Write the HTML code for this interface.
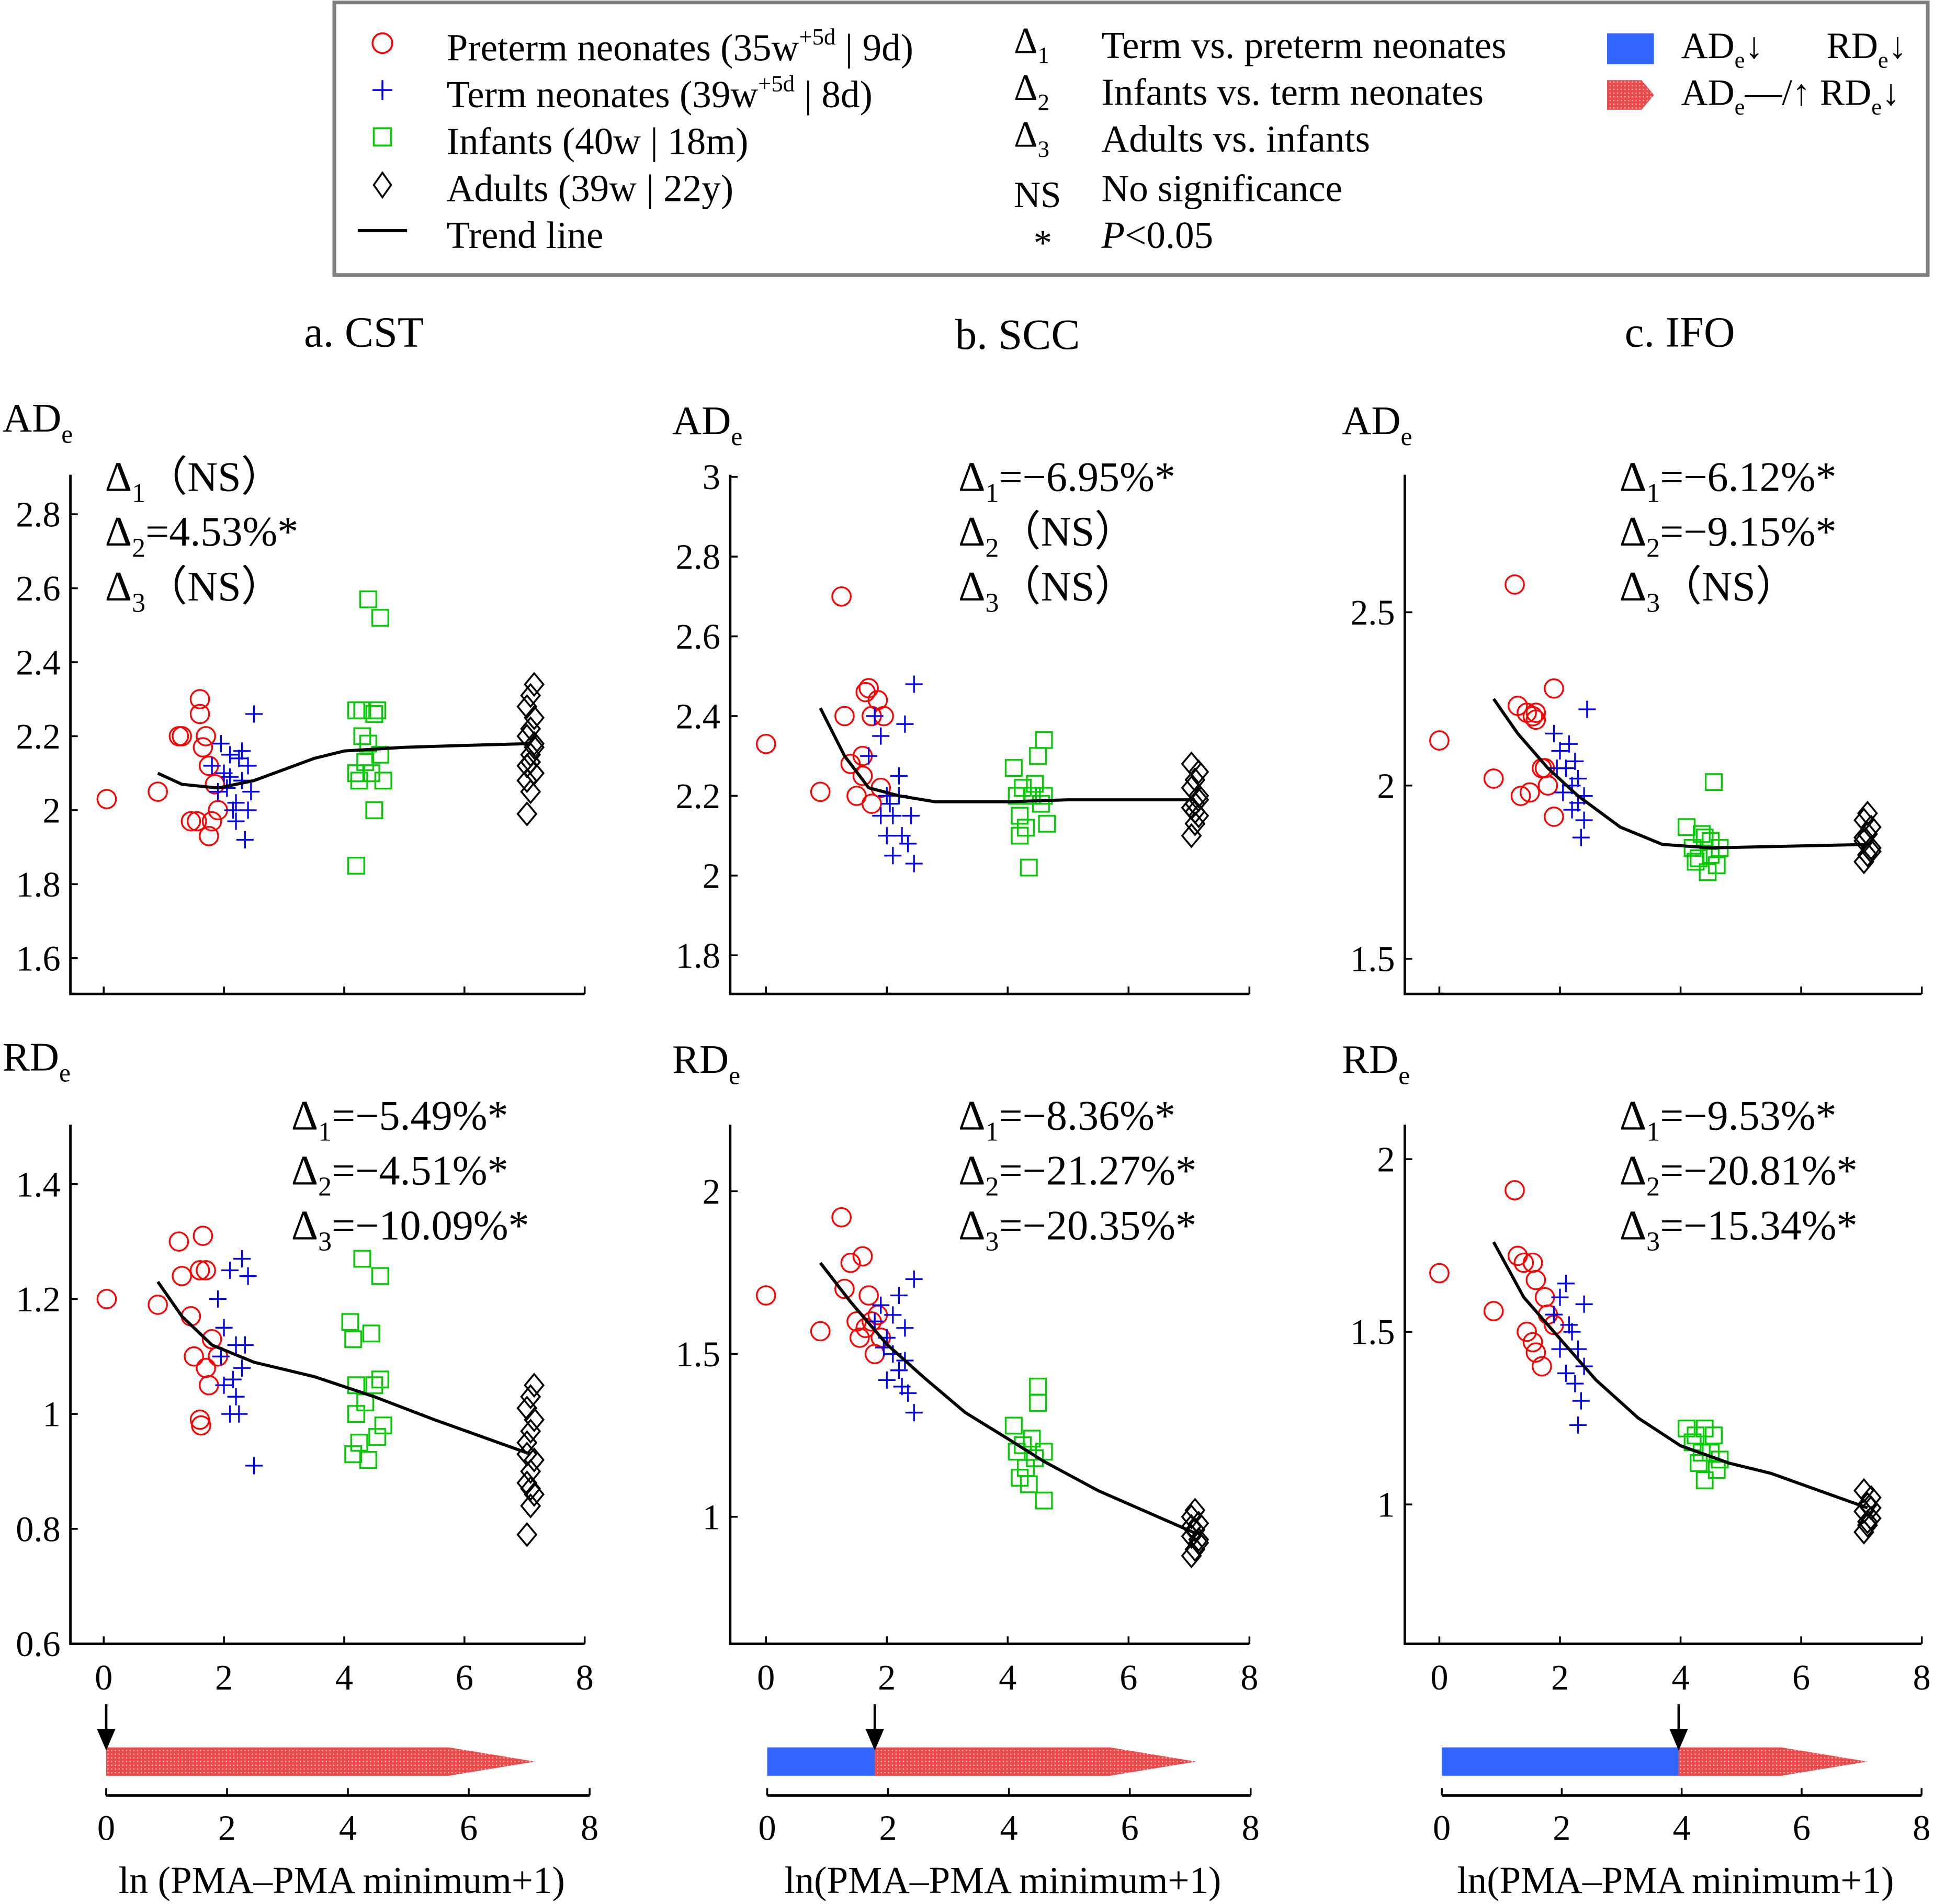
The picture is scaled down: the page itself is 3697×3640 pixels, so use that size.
<!DOCTYPE html>
<html><head><meta charset="utf-8"><style>
html,body{margin:0;padding:0;background:#fff}
svg{display:block}
text{font-family:"Liberation Serif",serif;fill:#000}
</style></head><body>
<svg id="fig" width="3697" height="3640" viewBox="0 0 1568 1544" xmlns="http://www.w3.org/2000/svg">
<defs>
<pattern id="hatch" width="3" height="3" patternUnits="userSpaceOnUse">
<rect width="3" height="3" fill="#f04848"/><rect x="0" y="0" width="1" height="1" fill="#ffd0d0"/>
</pattern>
</defs>
<g id="legend">
<rect x="271" y="2" width="1292" height="221" fill="#fff" stroke="#7f7f7f" stroke-width="3"/>
<circle cx="310" cy="35" r="8" fill="none" stroke="#f00" stroke-width="1.5"/>
<text x="362" y="49" font-size="31">Preterm neonates (35w<tspan font-size="19" dy="-13">+5d</tspan><tspan dy="13"> | 9d)</tspan></text>
<path d="M302 73h16M310 65v16" stroke="#00f" stroke-width="1.5"/>
<text x="362" y="87" font-size="31">Term neonates (39w<tspan font-size="19" dy="-13">+5d</tspan><tspan dy="13"> | 8d)</tspan></text>
<rect x="303" y="104" width="14" height="14" fill="none" stroke="#0c0" stroke-width="1.5"/>
<text x="362" y="125" font-size="31">Infants (40w | 18m)</text>
<path d="M310 140l7 10l-7 10l-7-10z" fill="none" stroke="#000" stroke-width="1.5"/>
<text x="362" y="163" font-size="31">Adults (39w | 22y)</text>
<path d="M290 187h40" stroke="#000" stroke-width="2.5"/>
<text x="362" y="201" font-size="31">Trend line</text>
<text x="822" y="43" font-size="30">Δ<tspan font-size="19" dy="8">1</tspan></text>
<text x="893" y="47" font-size="31">Term vs. preterm neonates</text>
<text x="822" y="81" font-size="30">Δ<tspan font-size="19" dy="8">2</tspan></text>
<text x="893" y="85" font-size="31">Infants vs. term neonates</text>
<text x="822" y="119" font-size="30">Δ<tspan font-size="19" dy="8">3</tspan></text>
<text x="893" y="123" font-size="31">Adults vs. infants</text>
<text x="822" y="168" font-size="30">NS</text>
<text x="893" y="163" font-size="31">No significance</text>
<text x="838" y="207" font-size="30">*</text>
<text x="893" y="201" font-size="31"><tspan font-style="italic">P</tspan>&lt;0.05</text>
<rect x="1303" y="27" width="38" height="25" fill="#3366ff"/>
<text x="1363" y="47" font-size="30">AD<tspan font-size="19" dy="8">e</tspan><tspan dy="-8">↓</tspan></text>
<text x="1481" y="47" font-size="30">RD<tspan font-size="19" dy="8">e</tspan><tspan dy="-8">↓</tspan></text>
<path d="M1303 65h28l10 12l-10 12h-28z" fill="url(#hatch)"/>
<text x="1363" y="85" font-size="30">AD<tspan font-size="19" dy="8">e</tspan><tspan dy="-8">—/↑ RD</tspan><tspan font-size="19" dy="8">e</tspan><tspan dy="-8">↓</tspan></text>
</g>
<text x="295" y="281" font-size="35" text-anchor="middle">a. CST</text>
<text x="825" y="283" font-size="35" text-anchor="middle">b. SCC</text>
<text x="1362" y="281" font-size="35" text-anchor="middle">c. IFO</text>
<g id="plots"></g>
</svg>
<script>
// ---- data ----
const aPre=[[0.05,2.03],[0.9,2.05],[1.25,2.2],[1.3,2.2],[1.6,2.3],[1.6,2.26],[1.7,2.2],[1.65,2.17],[1.45,1.97],[1.55,1.97],[1.75,1.93],[1.8,1.97],[1.9,2.0],[1.75,2.12],[1.85,2.07]];
const aTerm=[[1.8,2.12],[1.9,2.05],[2.0,2.1],[2.1,2.15],[2.2,2.02],[2.3,2.08],[2.4,2.12],[2.5,2.26],[2.2,1.97],[2.35,1.92],[1.95,2.18],[2.15,2.0],[2.45,2.05],[2.05,2.06],[2.25,2.14],[2.4,2.0],[2.1,2.09],[2.3,2.16]];
const aInf=[[4.2,2.27],[4.4,2.57],[4.6,2.52],[4.3,2.27],[4.55,2.27],[4.2,2.1],[4.3,2.2],[4.45,2.1],[4.6,2.15],[4.5,2.0],[4.2,1.85],[4.25,2.08],[4.35,2.13],[4.65,2.08],[4.5,2.26],[4.4,2.18]];
const aAd=[1.99,2.05,2.1,2.12,2.15,2.17,2.2,2.22,2.25,2.28,2.31,2.34,2.08,2.13,2.18];
const aTrend=[[0.9,2.1],[1.3,2.07],[1.9,2.06],[2.5,2.08],[3,2.11],[3.5,2.14],[4,2.16],[4.5,2.165],[5,2.17],[6,2.175],[7.1,2.18]];

const bPre=[[0,2.33],[0.9,2.21],[1.25,2.7],[1.3,2.4],[1.4,2.28],[1.5,2.2],[1.6,2.3],[1.65,2.46],[1.7,2.47],[1.75,2.4],[1.85,2.44],[1.95,2.4],[1.75,2.18],[1.9,2.22],[1.6,2.25]];
const bTerm=[[1.7,2.3],[1.8,2.4],[1.9,2.35],[2.0,2.2],[2.1,2.15],[2.2,2.25],[2.3,2.38],[2.45,2.48],[2.0,2.1],[2.1,2.05],[2.25,2.1],[2.35,2.08],[2.45,2.03],[1.9,2.15],[2.2,2.2],[2.4,2.15],[2.05,2.18]];
const bInf=[[4.1,2.27],[4.15,2.2],[4.2,2.15],[4.25,2.22],[4.3,2.12],[4.35,2.02],[4.4,2.2],[4.5,2.3],[4.6,2.34],[4.55,2.18],[4.65,2.13],[4.45,2.23],[4.2,2.1],[4.6,2.2]];
const bAd=[2.1,2.13,2.15,2.17,2.18,2.2,2.22,2.24,2.26,2.28,2.16,2.19];
const bTrend=[[0.9,2.42],[1.3,2.3],[1.7,2.22],[2.2,2.2],[2.8,2.185],[4,2.185],[5,2.19],[7.1,2.19]];

const cPre=[[0,2.13],[0.9,2.02],[1.25,2.58],[1.3,2.23],[1.45,2.21],[1.55,2.2],[1.6,2.21],[1.9,2.28],[1.35,1.97],[1.5,1.98],[1.7,2.05],[1.75,2.05],[1.9,1.91],[1.8,2.0],[1.6,2.19]];
const cTerm=[[1.9,2.15],[2.0,2.1],[2.1,2.05],[2.2,2.0],[2.3,1.95],[2.4,1.9],[2.45,2.22],[2.25,2.07],[2.35,1.85],[2.05,1.98],[2.15,2.12],[2.3,2.02],[2.4,1.97],[1.95,2.05],[2.2,1.93]];
const cInf=[[4.1,1.88],[4.2,1.82],[4.3,1.79],[4.4,1.85],[4.5,1.8],[4.6,1.77],[4.55,2.01],[4.45,1.75],[4.65,1.82],[4.25,1.78],[4.35,1.86],[4.5,1.84]];
const cAd=[1.78,1.8,1.82,1.84,1.86,1.88,1.9,1.92,1.81,1.85];
const cTrend=[[0.9,2.25],[1.3,2.15],[1.8,2.05],[2.3,1.97],[3,1.88],[3.7,1.83],[4.5,1.82],[7.1,1.83]];

const dPre=[[0.05,1.2],[0.9,1.19],[1.25,1.3],[1.3,1.24],[1.45,1.17],[1.5,1.1],[1.6,1.25],[1.65,1.31],[1.7,1.25],[1.6,0.99],[1.62,0.98],[1.75,1.05],[1.8,1.13],[1.7,1.08],[1.9,1.1]];
const dTerm=[[1.9,1.2],[2.0,1.15],[2.1,1.25],[2.2,1.12],[2.3,1.27],[2.4,1.24],[2.0,1.05],[2.1,1.0],[2.2,1.03],[2.3,1.08],[2.5,0.91],[1.95,1.1],[2.15,1.06],[2.35,1.12],[2.25,1.0]];
const dInf=[[4.1,1.16],[4.15,1.13],[4.2,1.05],[4.3,1.27],[4.45,1.14],[4.5,1.05],[4.6,1.24],[4.65,0.98],[4.15,0.93],[4.25,0.95],[4.4,0.92],[4.55,0.96],[4.35,1.02],[4.6,1.06],[4.2,1.0]];
const dAd=[0.79,0.84,0.86,0.88,0.9,0.92,0.95,0.97,0.99,1.01,1.03,1.05,0.93,0.87];
const dTrend=[[0.9,1.23],[1.3,1.17],[1.8,1.12],[2.5,1.09],[3.5,1.065],[4.5,1.03],[5.5,0.99],[7.1,0.93]];

const ePre=[[0,1.68],[0.9,1.57],[1.25,1.92],[1.3,1.7],[1.4,1.78],[1.6,1.8],[1.5,1.6],[1.55,1.55],[1.7,1.68],[1.75,1.6],[1.8,1.5],[1.85,1.62],[1.65,1.58],[1.9,1.55]];
const eTerm=[[1.8,1.6],[1.9,1.65],[2.0,1.55],[2.1,1.5],[2.2,1.45],[2.3,1.58],[2.45,1.73],[2.2,1.68],[2.35,1.38],[2.45,1.32],[2.0,1.42],[2.1,1.62],[2.3,1.48],[1.95,1.52],[2.25,1.4]];
const eInf=[[4.1,1.28],[4.15,1.2],[4.2,1.12],[4.3,1.15],[4.4,1.24],[4.5,1.4],[4.5,1.35],[4.6,1.2],[4.6,1.05],[4.35,1.1],[4.45,1.18],[4.25,1.22]];
const eAd=[0.88,0.9,0.92,0.94,0.96,0.98,1.0,1.02,0.93,0.97];
const eTrend=[[0.9,1.78],[1.4,1.66],[2,1.53],[2.6,1.43],[3.3,1.32],[4,1.24],[4.6,1.17],[5.5,1.08],[7.1,0.95]];

const fPre=[[0,1.67],[0.9,1.56],[1.25,1.91],[1.3,1.72],[1.4,1.7],[1.55,1.7],[1.6,1.65],[1.45,1.5],[1.55,1.47],[1.6,1.44],[1.7,1.4],[1.8,1.55],[1.75,1.6],[1.9,1.52]];
const fTerm=[[1.9,1.55],[2.0,1.6],[2.1,1.64],[2.2,1.5],[2.3,1.45],[2.4,1.58],[2.35,1.3],[2.3,1.23],[2.1,1.38],[2.0,1.45],[2.25,1.35],[2.4,1.4],[2.15,1.52]];
const fInf=[[4.1,1.22],[4.2,1.18],[4.3,1.12],[4.4,1.22],[4.5,1.15],[4.6,1.1],[4.4,1.07],[4.25,1.2],[4.55,1.2],[4.35,1.15],[4.65,1.13]];
const fAd=[0.92,0.94,0.96,0.98,1.0,1.02,1.04,0.95,0.99];
const fTrend=[[0.9,1.76],[1.4,1.6],[2,1.48],[2.6,1.36],[3.3,1.25],[4,1.17],[4.8,1.12],[5.5,1.09],[7.1,0.99]];

const aTicks=[1.6,1.8,2,2.2,2.4,2.6,2.8];
const bTicks=[1.8,2,2.2,2.4,2.6,2.8,3];
const cTicks=[1.5,2,2.5];
const dTicks=[0.6,0.8,1,1.2,1.4];
const eTicks=[1,1.5,2];
const fTicks=[1,1.5,2];
const xTicks=[0,2,4,6,8];
const changeX=[0,1.78,3.95];

const NS="http://www.w3.org/2000/svg";
const root=document.getElementById('plots');
function mk(tag,attrs,parent){const e=document.createElementNS(NS,tag);for(const k in attrs)e.setAttribute(k,attrs[k]);(parent||root).appendChild(e);return e;}
function fmt(v){return String(v);}

const panels=[
 {id:'a',pre:aPre,term:aTerm,inf:aInf,ad:aAd,tr:aTrend,ticks:aTicks,x0:57,x1:474,xz:84,xs:48.75,top:385,bot:806,yref:2,ypx:657,yk:300,lab:'AD',lx:2,ly:350,ann:[['1','（NS）'],['2','=4.53%*'],['3','（NS）']],ax:85,ay:398,showX:false},
 {id:'b',pre:bPre,term:bTerm,inf:bInf,ad:bAd,tr:bTrend,ticks:bTicks,x0:592,x1:1013,xz:621,xs:49,top:385,bot:806,yref:2,ypx:710,yk:323.3,lab:'AD',lx:545,ly:352,ann:[['1','=−6.95%*'],['2','（NS）'],['3','（NS）']],ax:777,ay:398,showX:false},
 {id:'c',pre:cPre,term:cTerm,inf:cInf,ad:cAd,tr:cTrend,ticks:cTicks,x0:1139,x1:1558,xz:1167,xs:48.9,top:385,bot:806,yref:2,ypx:637,yk:281,lab:'AD',lx:1088,ly:352,ann:[['1','=−6.12%*'],['2','=−9.15%*'],['3','（NS）']],ax:1313,ay:398,showX:false},
 {id:'d',pre:dPre,term:dTerm,inf:dInf,ad:dAd,tr:dTrend,ticks:dTicks,x0:57,x1:474,xz:84,xs:48.75,top:912,bot:1333,yref:0.6,ypx:1333,yk:466,lab:'RD',lx:2,ly:868,ann:[['1','=−5.49%*'],['2','=−4.51%*'],['3','=−10.09%*']],ax:236,ay:916,showX:true,bx0:86,bx1:478,cx:changeX[0],tipX:7.1},
 {id:'e',pre:ePre,term:eTerm,inf:eInf,ad:eAd,tr:eTrend,ticks:eTicks,x0:592,x1:1013,xz:621,xs:49,top:912,bot:1333,yref:1,ypx:1230,yk:264,lab:'RD',lx:545,ly:870,ann:[['1','=−8.36%*'],['2','=−21.27%*'],['3','=−20.35%*']],ax:777,ay:916,showX:true,bx0:622,bx1:1014,cx:changeX[1],tipX:7.1},
 {id:'f',pre:fPre,term:fTerm,inf:fInf,ad:fAd,tr:fTrend,ticks:fTicks,x0:1139,x1:1558,xz:1167,xs:48.9,top:912,bot:1333,yref:1,ypx:1220,yk:280,lab:'RD',lx:1088,ly:870,ann:[['1','=−9.53%*'],['2','=−20.81%*'],['3','=−15.34%*']],ax:1313,ay:916,showX:true,bx0:1169,bx1:1558,cx:changeX[2],tipX:7.1}
];

panels.forEach(p=>{
 const g=mk('g',{});
 
 
 const X=v=>p.xz+v*p.xs;
 const Y=v=>p.ypx-(v-p.yref)*p.yk;
 const ax=mk('path',{d:`M${p.x0} ${p.top}V${p.bot}H${p.x1}`,fill:'none',stroke:'#000','stroke-width':2},g);
 
 
 p.ticks.forEach(t=>{
  const y=Y(t);
  mk('path',{d:`M${p.x0} ${y}h6`,stroke:'#000','stroke-width':1.5},g);
  const tl=mk('text',{x:p.x0-8,y:y+10,'font-size':29,'text-anchor':'end'},g);
  tl.textContent=fmt(t);
  
  
 });
 xTicks.forEach(t=>{
  const x=X(t);
  mk('path',{d:`M${x} ${p.bot}v-6`,stroke:'#000','stroke-width':1.5},g);
  if(p.showX){
   const tl=mk('text',{x:x,y:p.bot+37,'font-size':29,'text-anchor':'middle'},g);
   tl.textContent=fmt(t);
   
   
  }
 });
 const yl=mk('text',{x:p.lx,y:p.ly,'font-size':33},g);
 yl.innerHTML=p.lab+'<tspan font-size="21" dy="9">e</tspan>';
 
 
 p.ann.forEach((a,i)=>{
  const t=mk('text',{x:p.ax,y:p.ay+i*44.5,'font-size':34},g);
  t.innerHTML='Δ<tspan font-size="22" dy="9">'+a[0]+'</tspan><tspan dy="-9">'+a[1]+'</tspan>';
  
  
 });
 p.pre.forEach(d=>{
  const c=mk('circle',{cx:X(d[0]),cy:Y(d[1]),r:7.5,fill:'none',stroke:'#f00','stroke-width':1.4},g);
  
  
 });
 p.term.forEach(d=>{
  const x=X(d[0]),y=Y(d[1]);
  const c=mk('path',{d:`M${x-7} ${y}h14M${x} ${y-7}v14`,stroke:'#00f','stroke-width':1.4},g);
  
  
 });
 p.inf.forEach(d=>{
  const x=X(d[0]),y=Y(d[1]);
  const c=mk('rect',{x:x-6.5,y:y-6.5,width:13,height:13,fill:'none',stroke:'#0c0','stroke-width':1.4},g);
  
  
 });
 p.ad.forEach((v,i)=>{
  const x=X(7.1+((i%3)-1)*0.06),y=Y(v);
  const c=mk('path',{d:`M${x} ${y-9}l7.5 9l-7.5 9l-7.5-9z`,fill:'none',stroke:'#000','stroke-width':1.5},g);
  
  
 });
 const tl=mk('polyline',{points:p.tr.map(d=>X(d[0])+','+Y(d[1])).join(' '),fill:'none',stroke:'#000','stroke-width':2.5,'stroke-linejoin':'round'},g);
 
 
 if(p.showX){
  const bs=(p.bx1-p.bx0)/8, BX=v=>p.bx0+v*bs;
  const yT=1417,yB=1440,mid=(yT+yB)/2;
  if(p.cx>0){
   const b=mk('rect',{x:BX(0),y:yT,width:BX(p.cx)-BX(0),height:yB-yT,fill:'#3366ff'},g);
   
   
  }
  const tip=BX(p.tipX),sh=tip-70;
  const r=mk('path',{d:`M${BX(p.cx)} ${yT}H${sh}L${tip} ${mid}L${sh} ${yB}H${BX(p.cx)}z`,fill:'url(#hatch)'},g);
  
  
  const ar=mk('path',{d:`M${BX(p.cx)} 1382V1405M${BX(p.cx)-6} 1403L${BX(p.cx)} ${yT}L${BX(p.cx)+6} 1403z`,stroke:'#000','stroke-width':2,fill:'#000'},g);
  
  
  mk('path',{d:`M${BX(0)} 1456H${BX(8)}`,stroke:'#000','stroke-width':2},g);
  xTicks.forEach(t=>{
   mk('path',{d:`M${BX(t)} 1456v-6`,stroke:'#000','stroke-width':1.5},g);
   const l=mk('text',{x:BX(t),y:1492,'font-size':29,'text-anchor':'middle'},g);
   l.textContent=fmt(t);
   
   
  });
  const xl=mk('text',{x:(BX(0)+BX(8))/2-5,y:1535,'font-size':31,'text-anchor':'middle'},g);
  xl.textContent=p.id==='d'?'ln (PMA–PMA minimum+1)':'ln(PMA–PMA minimum+1)';
  
  
 }
});
</script>
</body></html>
